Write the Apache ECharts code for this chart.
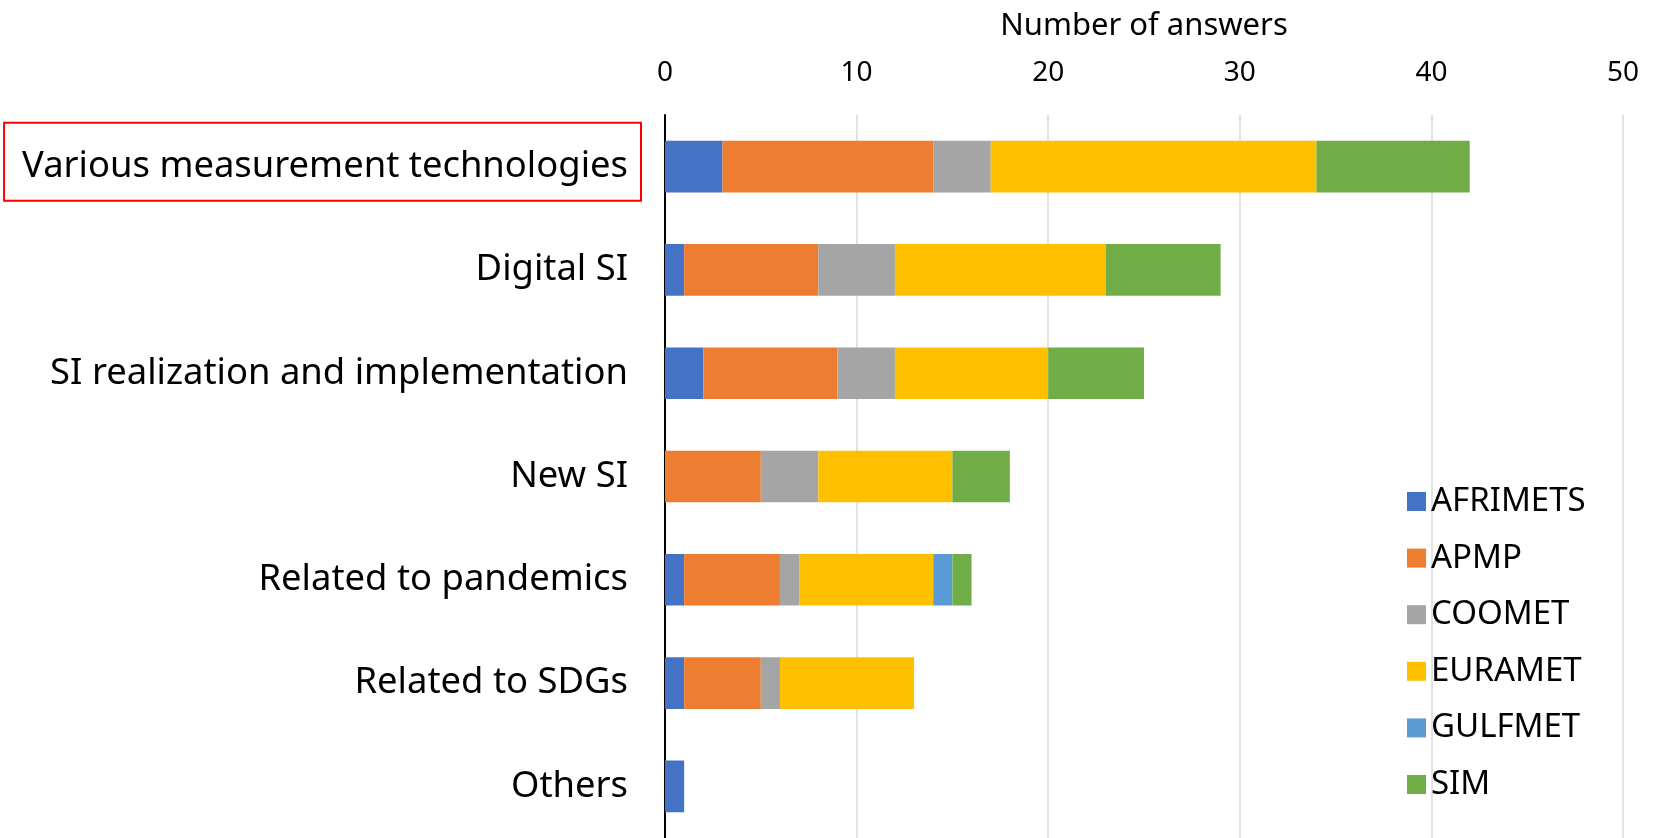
<!DOCTYPE html>
<html>
<head>
<meta charset="utf-8">
<script src="https://cdn.jsdelivr.net/npm/echarts@6/dist/echarts.min.js"></script>
<style>
  html, body { margin: 0; padding: 0; background: #fff; }
  #chart { width: 1656px; height: 838px; }
</style>
</head>
<body>
<div id="chart"></div>
<script>
const categories = [
  "Various measurement technologies",
  "Digital SI",
  "SI realization and implementation",
  "New SI",
  "Related to pandemics",
  "Related to SDGs",
  "Others"
];
const afrimets = [3, 1, 2, 0, 1, 1, 1];
const apmp     = [11, 7, 7, 5, 5, 4, 0];
const coomet   = [3, 4, 3, 3, 1, 1, 0];
const euramet  = [17, 11, 8, 7, 7, 7, 0];
const gulfmet  = [0, 0, 0, 0, 1, 0, 0];
const sim      = [8, 6, 5, 3, 1, 0, 0];
const xTicks = [0, 10, 20, 30, 40, 50];

const font = "Noto Sans";
const seriesDefs = [
  { name: "AFRIMETS", data: afrimets, color: "#4472C4" },
  { name: "APMP", data: apmp, color: "#ED7D31" },
  { name: "COOMET", data: coomet, color: "#A5A5A5" },
  { name: "EURAMET", data: euramet, color: "#FFC000" },
  { name: "GULFMET", data: gulfmet, color: "#5B9BD5" },
  { name: "SIM", data: sim, color: "#70AD47" }
];

// first category is highlighted with a red frame
const yData = categories.map((c, i) => i === 0
  ? { value: c, textStyle: { padding: [0, 0, 10, 0] } }
  : c);

const chart = echarts.init(document.getElementById("chart"));
chart.setOption({
  animation: false,
  backgroundColor: "#fff",
  grid: { left: 665, right: 33, top: 115, bottom: 0, containLabel: false },
  legend: {
    orient: "vertical",
    left: 1402,
    top: 480,
    itemWidth: 19,
    itemHeight: 19,
    itemGap: 23.6,
    icon: "rect",
    textStyle: { fontFamily: font, fontSize: 33, color: "#000" },
    data: seriesDefs.map(s => s.name)
  },
  xAxis: {
    type: "value",
    position: "top",
    min: xTicks[0],
    max: xTicks[xTicks.length - 1],
    interval: 10,
    name: "Number of answers",
    nameLocation: "middle",
    nameGap: 73,
    nameTextStyle: { fontFamily: font, fontSize: 31, color: "#000" },
    axisLine: { show: false },
    axisTick: { show: false },
    axisLabel: { fontFamily: font, fontSize: 28, color: "#000", margin: 28 },
    splitLine: { lineStyle: { color: "#d9d9d9", width: 1.5 } }
  },
  yAxis: {
    type: "category",
    inverse: true,
    data: yData,
    axisLine: { lineStyle: { color: "#000", width: 2 } },
    axisTick: { show: false },
    axisLabel: {
      margin: 24,
      formatter: function (value, index) {
        return index === 0 ? "{box|" + value + "}" : "{a|" + value + "}";
      },
      rich: {
        a: { fontFamily: font, fontSize: 36.4, color: "#000", padding: [0, 13, 0, 0] },
        box: {
          fontFamily: font, fontSize: 36.4, color: "#000",
          borderColor: "#ff0000", borderWidth: 2,
          padding: [26, 13, 16, 18]
        }
      }
    }
  },
  series: seriesDefs.map(s => ({
    name: s.name,
    type: "bar",
    stack: "total",
    barWidth: "50%",
    data: s.data,
    itemStyle: { color: s.color }
  }))
});
</script>
</body>
</html>
